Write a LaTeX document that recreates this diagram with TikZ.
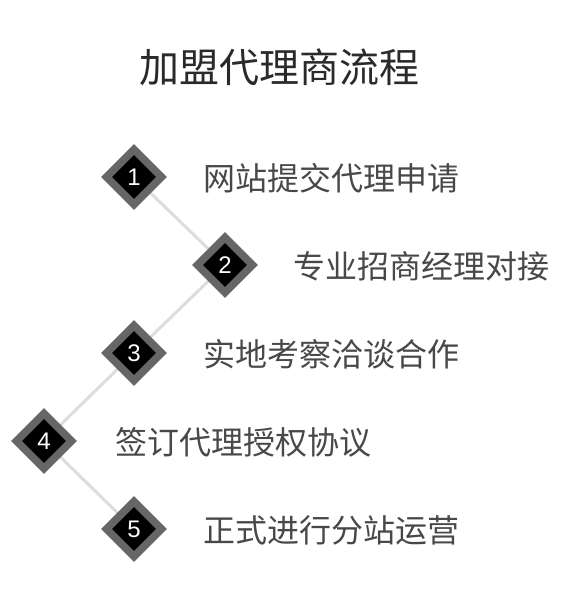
\documentclass[tikz,border=0pt]{standalone}
\usepackage{fontspec}
\newfontfamily\cjk{Noto Sans CJK SC}
\setsansfont{Liberation Sans}
\usetikzlibrary{shapes.geometric}
\definecolor{outerg}{HTML}{666666}
\definecolor{lineg}{HTML}{DDDDDD}
\definecolor{labelc}{HTML}{484848}
\definecolor{titlec}{HTML}{2A2A2A}
\begin{document}
\begin{tikzpicture}[x=1pt,y=-1pt,
  outerd/.style={diamond,fill=outerg,minimum width=66pt,minimum height=66pt,inner sep=0pt},
  innerd/.style={diamond,fill=black,minimum width=44pt,minimum height=44pt,inner sep=0pt,text=white,font=\sffamily\fontsize{24}{24}\selectfont},
  lbl/.style={anchor=west,text=labelc,inner sep=0pt,font=\cjk\fontsize{32}{32}\selectfont},
  conn/.style={draw=lineg,line width=3pt}]
\useasboundingbox (0,0) rectangle (560,612);
\fill[white] (0,0) rectangle (560,612);
\coordinate (c1) at (134,177);
\coordinate (c2) at (225,265);
\coordinate (c3) at (134,353);
\coordinate (c4) at (44,441);
\coordinate (c5) at (134,529);
\draw[conn] (c1) -- (c2) -- (c3) -- (c4) -- (c5);
\foreach \i in {1,...,5}{
  \node[outerd] (o\i) at (c\i) {};
  \node[innerd] (n\i) at (c\i) {\i};
}
\node[text=titlec,font=\cjk\fontsize{40}{40}\selectfont,inner sep=0pt] (title) at (279,67) {加盟代理商流程};
\node[lbl] (l1) at (203,178) {网站提交代理申请};
\node[lbl] (l2) at (293,266) {专业招商经理对接};
\node[lbl] (l3) at (203,354) {实地考察洽谈合作};
\node[lbl] (l4) at (115,442) {签订代理授权协议};
\node[lbl] (l5) at (203,530) {正式进行分站运营};
\end{tikzpicture}
\end{document}
